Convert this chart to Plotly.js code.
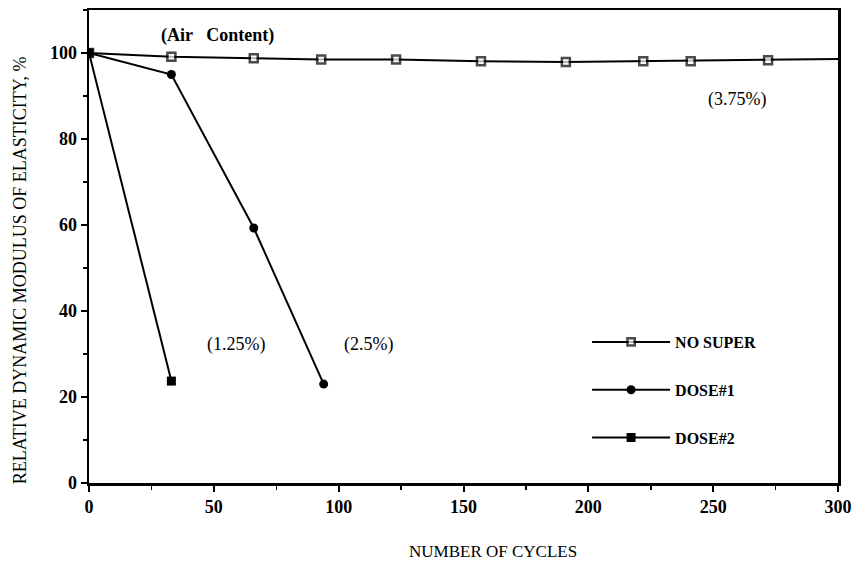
<!DOCTYPE html>
<html>
<head>
<meta charset="utf-8">
<script src="https://cdn.plot.ly/plotly-3.0.1.min.js"></script>
<style>html,body{margin:0;padding:0;background:#fff;}#chart{width:860px;height:567px;}</style>
</head>
<body>
<div id="chart"></div>
<script>
// Data
const noSuperX = [0, 33, 66, 93, 123, 157, 191, 222, 241, 272, 300];
const noSuperY = [100, 99.1, 98.8, 98.5, 98.5, 98.1, 97.9, 98.1, 98.1, 98.3, 98.6];
const dose1X = [0, 33, 66, 94];
const dose1Y = [100, 95.0, 59.3, 23.0];
const dose2X = [0, 33];
const dose2Y = [100, 23.7];
const seriesNames = ["NO SUPER", "DOSE#1", "DOSE#2"];
const xTicks = [0, 50, 100, 150, 200, 250, 300];
const yTicks = [0, 20, 40, 60, 80, 100];
const xTitle = "NUMBER OF CYCLES";
const yTitle = "RELATIVE DYNAMIC MODULUS OF ELASTICITY, %";

const serif = "Liberation Serif";
const noSuperSizes = noSuperX.map((x, i) => (i === noSuperX.length - 1 ? 0 : 8));

const traces = [
  {
    x: noSuperX, y: noSuperY, name: seriesNames[0], legendgroup: "a", mode: "lines+markers",
    line: {color: "#000", width: 2},
    marker: {symbol: "square", size: noSuperSizes, color: "#fff", line: {color: "#000", width: 2.5}}
  },
  {
    x: dose1X, y: dose1Y, name: seriesNames[1], legendgroup: "b", mode: "lines+markers",
    line: {color: "#000", width: 2},
    marker: {symbol: "circle", size: 9, color: "#000"}
  },
  {
    x: dose2X, y: dose2Y, name: seriesNames[2], legendgroup: "c", mode: "lines+markers",
    line: {color: "#000", width: 2},
    marker: {symbol: "square", size: 9, color: "#000"}
  }
];

const layout = {
  width: 860, height: 567,
  margin: {l: 89, r: 22, t: 10, b: 84},
  paper_bgcolor: "#fff", plot_bgcolor: "#fff",
  font: {family: serif, color: "#000", size: 16},
  showlegend: true,
  legend: {
    x: 0.665, y: 0.334, xanchor: "left", yanchor: "top",
    bgcolor: "rgba(0,0,0,0)", borderwidth: 0,
    font: {family: serif, size: 16, color: "#000", weight: "bold"},
    tracegroupgap: 24, itemwidth: 78, traceorder: "grouped"
  },
  xaxis: {
    range: [0, 300], tickvals: xTicks, ticktext: xTicks.map(String),
    showgrid: false, zeroline: false,
    showline: true, linecolor: "#000", linewidth: 2.5, mirror: true,
    ticks: "outside", ticklen: 6, tickwidth: 2, tickcolor: "#000",
    minor: {dtick: 25, ticks: "outside", ticklen: 4, tickwidth: 1.5, tickcolor: "#000", showgrid: false},
    tickfont: {family: serif, size: 18, color: "#000", weight: "bold"}
  },
  yaxis: {
    range: [0, 110], tickvals: yTicks, ticktext: yTicks.map(String),
    showgrid: false, zeroline: false,
    showline: true, linecolor: "#000", linewidth: 2.5, mirror: true,
    ticks: "outside", ticklen: 6, tickwidth: 2, tickcolor: "#000",
    minor: {dtick: 10, ticks: "outside", ticklen: 4, tickwidth: 1.5, tickcolor: "#000", showgrid: false},
    tickfont: {family: serif, size: 18, color: "#000", weight: "bold"}
  },
  annotations: [
    {x: 0.54, y: -0.145, xref: "paper", yref: "paper", xanchor: "center", yanchor: "middle",
     text: xTitle, showarrow: false, font: {family: serif, size: 17, color: "#000"}},
    {x: -0.092, y: 0.45, xref: "paper", yref: "paper", xanchor: "center", yanchor: "middle",
     text: yTitle, textangle: -90, showarrow: false, font: {family: serif, size: 18, color: "#000"}},
    {x: 51.3, y: 104.1, xref: "x", yref: "y", text: "(Air   Content)", showarrow: false,
     font: {family: serif, size: 18, color: "#000", weight: "bold"}},
    {x: 259.6, y: 89.2, xref: "x", yref: "y", text: "(3.75%)", showarrow: false,
     font: {family: serif, size: 18, color: "#000"}},
    {x: 58.9, y: 32.2, xref: "x", yref: "y", text: "(1.25%)", showarrow: false,
     font: {family: serif, size: 18, color: "#000"}},
    {x: 112, y: 32.2, xref: "x", yref: "y", text: "(2.5%)", showarrow: false,
     font: {family: serif, size: 18, color: "#000"}}
  ]
};

Plotly.newPlot("chart", traces, layout, {displayModeBar: false, staticPlot: true});
</script>
</body>
</html>
